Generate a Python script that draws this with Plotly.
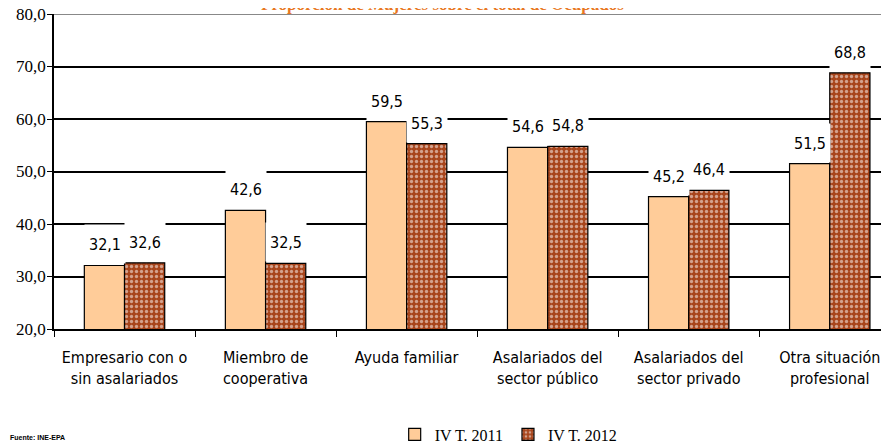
import plotly.graph_objects as go

categories = ["Empresario con o<br>sin asalariados", "Miembro de<br>cooperativa", "Ayuda familiar",
              "Asalariados del<br>sector público", "Asalariados del<br>sector privado",
              "Otra situación<br>profesional"]
series_2011 = [32.1, 42.6, 59.5, 54.6, 45.2, 51.5]
series_2012 = [32.6, 32.5, 55.3, 54.8, 46.4, 68.8]
series_names = ["IV T. 2011", "IV T. 2012"]
y_ticks = [20, 30, 40, 50, 60, 70, 80]
y_tick_labels = ["20,0", "30,0", "40,0", "50,0", "60,0", "70,0", "80,0"]

narrow = "DejaVu Sans Condensed, Arial Narrow, sans-serif"
serif = "Liberation Serif, Times New Roman, serif"

fig = go.Figure()
fig.add_trace(go.Bar(x=categories, y=series_2011, name=series_names[0],
                     marker=dict(color="#FFCC99", line=dict(color="black", width=1.2))))
fig.add_trace(go.Bar(x=categories, y=series_2012, name=series_names[1],
                     marker=dict(color="#A8451C", line=dict(color="black", width=1.2),
                                 pattern=dict(shape=".", fgcolor="white", size=5, solidity=0.35))))

def fmt(v):
    return f"{v:.1f}".replace(".", ",")

for i, (a, b) in enumerate(zip(series_2011, series_2012)):
    for val, shift in ((a, -20), (b, 20)):
        fig.add_annotation(x=categories[i], y=val, text=fmt(val), showarrow=False,
                           xshift=shift, yshift=1, yanchor="bottom",
                           width=38, height=36, bgcolor="white",
                           font=dict(family=narrow, size=16, color="black"))

fig.add_annotation(xref="paper", yref="paper", x=0.465, y=1.0, yshift=21, yanchor="top",
                   text="<b>Proporción de Mujeres sobre el total de Ocupados</b>", showarrow=False,
                   font=dict(family=serif, size=17, color="#E87722"))
fig.add_annotation(xref="paper", yref="paper", x=-0.055, y=-0.343, xanchor="left", yanchor="middle",
                   text="<b>Fuente: INE-EPA</b>", showarrow=False,
                   font=dict(family="Liberation Sans, Arial, sans-serif", size=7, color="black"))

fig.update_layout(
    width=881, height=435,
    margin=dict(l=46, r=0, t=6, b=114, autoexpand=False),
    paper_bgcolor="white", plot_bgcolor="white",
    barmode="group", bargap=0.43, bargroupgap=0,
    showlegend=True,
    legend=dict(orientation="h", x=0.408, y=-0.335, xanchor="left", yanchor="middle",
                font=dict(family=serif, size=16, color="black"), itemwidth=30,
                tracegroupgap=0),
    xaxis=dict(range=[-0.5, 5.42], showline=True, linecolor="black", linewidth=2,
               ticks="outside", tickson="boundaries", ticklen=6, tickcolor="black",
               tickangle=0, automargin=False, ticklabelstandoff=13,
               tickfont=dict(family=narrow, size=16, color="black"), showgrid=False),
    yaxis=dict(range=[20, 80], tickvals=y_ticks, ticktext=y_tick_labels,
               showline=True, linecolor="black", linewidth=1.5,
               ticks="outside", ticklen=5, tickcolor="black", automargin=False,
               ticklabeloverflow="allow", ticklabelstandoff=-2,
               showgrid=True, gridcolor="black", gridwidth=1.5,
               tickfont=dict(family=serif, size=17, color="black"), zeroline=False),
)
fig.add_shape(type="line", xref="paper", yref="y", x0=0, x1=1, y0=80, y1=80,
              line=dict(color="#888888", width=2))

fig.write_html("out.html")
